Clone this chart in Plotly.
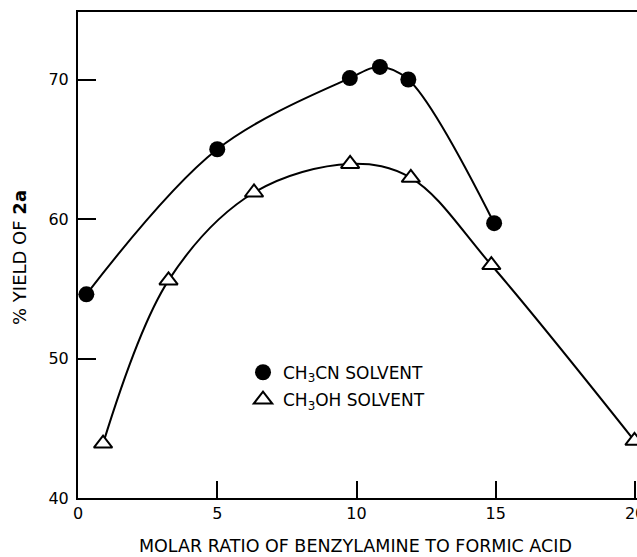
import plotly.graph_objects as go

# CH3CN solvent (filled circles)
acn_ratio = [0.3, 5.0, 9.76, 10.84, 11.86, 14.94]
acn_yield = [54.6, 65.0, 70.1, 70.9, 70.0, 59.7]

# CH3OH solvent (open triangles)
meoh_ratio = [0.9, 3.25, 6.32, 9.77, 11.95, 14.84, 19.98]
meoh_yield = [43.9, 55.6, 61.9, 63.95, 62.95, 56.7, 44.1]

x_ticks = [0, 5, 10, 15, 20]
y_ticks = [40, 50, 60, 70]

FONT = "DejaVu Sans"

fig = go.Figure()

fig.add_trace(go.Scatter(x=acn_ratio, y=acn_yield, mode="lines",
                         line=dict(color="black", width=2, shape="spline", smoothing=1.0),
                         showlegend=False, hoverinfo="skip"))
fig.add_trace(go.Scatter(x=meoh_ratio, y=meoh_yield, mode="lines",
                         line=dict(color="black", width=2, shape="spline", smoothing=1.0),
                         showlegend=False, hoverinfo="skip"))

fig.add_trace(go.Scatter(x=acn_ratio, y=acn_yield, mode="markers", name="CH<sub>3</sub>CN SOLVENT",
                         marker=dict(symbol="circle", size=16, color="black", line=dict(color="black", width=0)),
                         legend="legend"))
fig.add_trace(go.Scatter(x=meoh_ratio, y=meoh_yield, mode="markers", name="CH<sub>3</sub>OH SOLVENT",
                         marker=dict(symbol="triangle-up", size=16, color="white", line=dict(color="black", width=2)),
                         legend="legend2"))

L, T, R, B = 78, 12, 0, 59
W, H = 637, 557
pw, ph = W - L - R, H - T - B


def px_x(p):
    return (p - L) / pw


def px_y(p):
    return (H - B - p) / ph


fig.update_layout(
    width=W, height=H,
    margin=dict(l=L, r=R, t=T, b=B, pad=0, autoexpand=False),
    paper_bgcolor="white", plot_bgcolor="white",
    font=dict(family=FONT, size=15, color="black"),
    legend=dict(x=px_x(243), y=px_y(372.7), xanchor="left", yanchor="middle",
                font=dict(family=FONT, size=17, color="black"), bgcolor="rgba(0,0,0,0)"),
    legend2=dict(x=px_x(243), y=px_y(400), xanchor="left", yanchor="middle",
                 font=dict(family=FONT, size=17, color="black"), bgcolor="rgba(0,0,0,0)"),
    xaxis=dict(range=[0, 20.07], tickvals=x_ticks, ticktext=[str(v) for v in x_ticks],
               showgrid=False, zeroline=False, showline=True, linecolor="black", linewidth=2,
               mirror=True, ticks="inside", ticklen=17, tickwidth=1.5, tickcolor="black",
               ticklabeloverflow="allow", automargin=False,
               tickfont=dict(family=FONT, size=16, color="black")),
    yaxis=dict(range=[40, 40 + ph / 13.95], tickvals=y_ticks, ticktext=[str(v) for v in y_ticks],
               showgrid=False, zeroline=False, showline=True, linecolor="black", linewidth=2,
               ticks="inside", ticklen=18, tickwidth=1.5, tickcolor="black",
               ticklabelstandoff=4, automargin=False,
               tickfont=dict(family=FONT, size=16, color="black")),
    annotations=[
        dict(text="MOLAR RATIO OF BENZYLAMINE TO FORMIC ACID", xref="paper", yref="paper",
             x=px_x(355.5), y=px_y(545.5), xanchor="center", yanchor="middle", showarrow=False,
             font=dict(family=FONT, size=17.5, color="black")),
        dict(text="% YIELD OF <b>2a</b>", xref="paper", yref="paper", textangle=-90,
             x=px_x(19), y=px_y(258), xanchor="center", yanchor="middle", showarrow=False,
             font=dict(family=FONT, size=18, color="black")),
    ],
)

fig.write_html("out.html", config={"displayModeBar": False},
               post_script="document.body.style.margin='0';")
